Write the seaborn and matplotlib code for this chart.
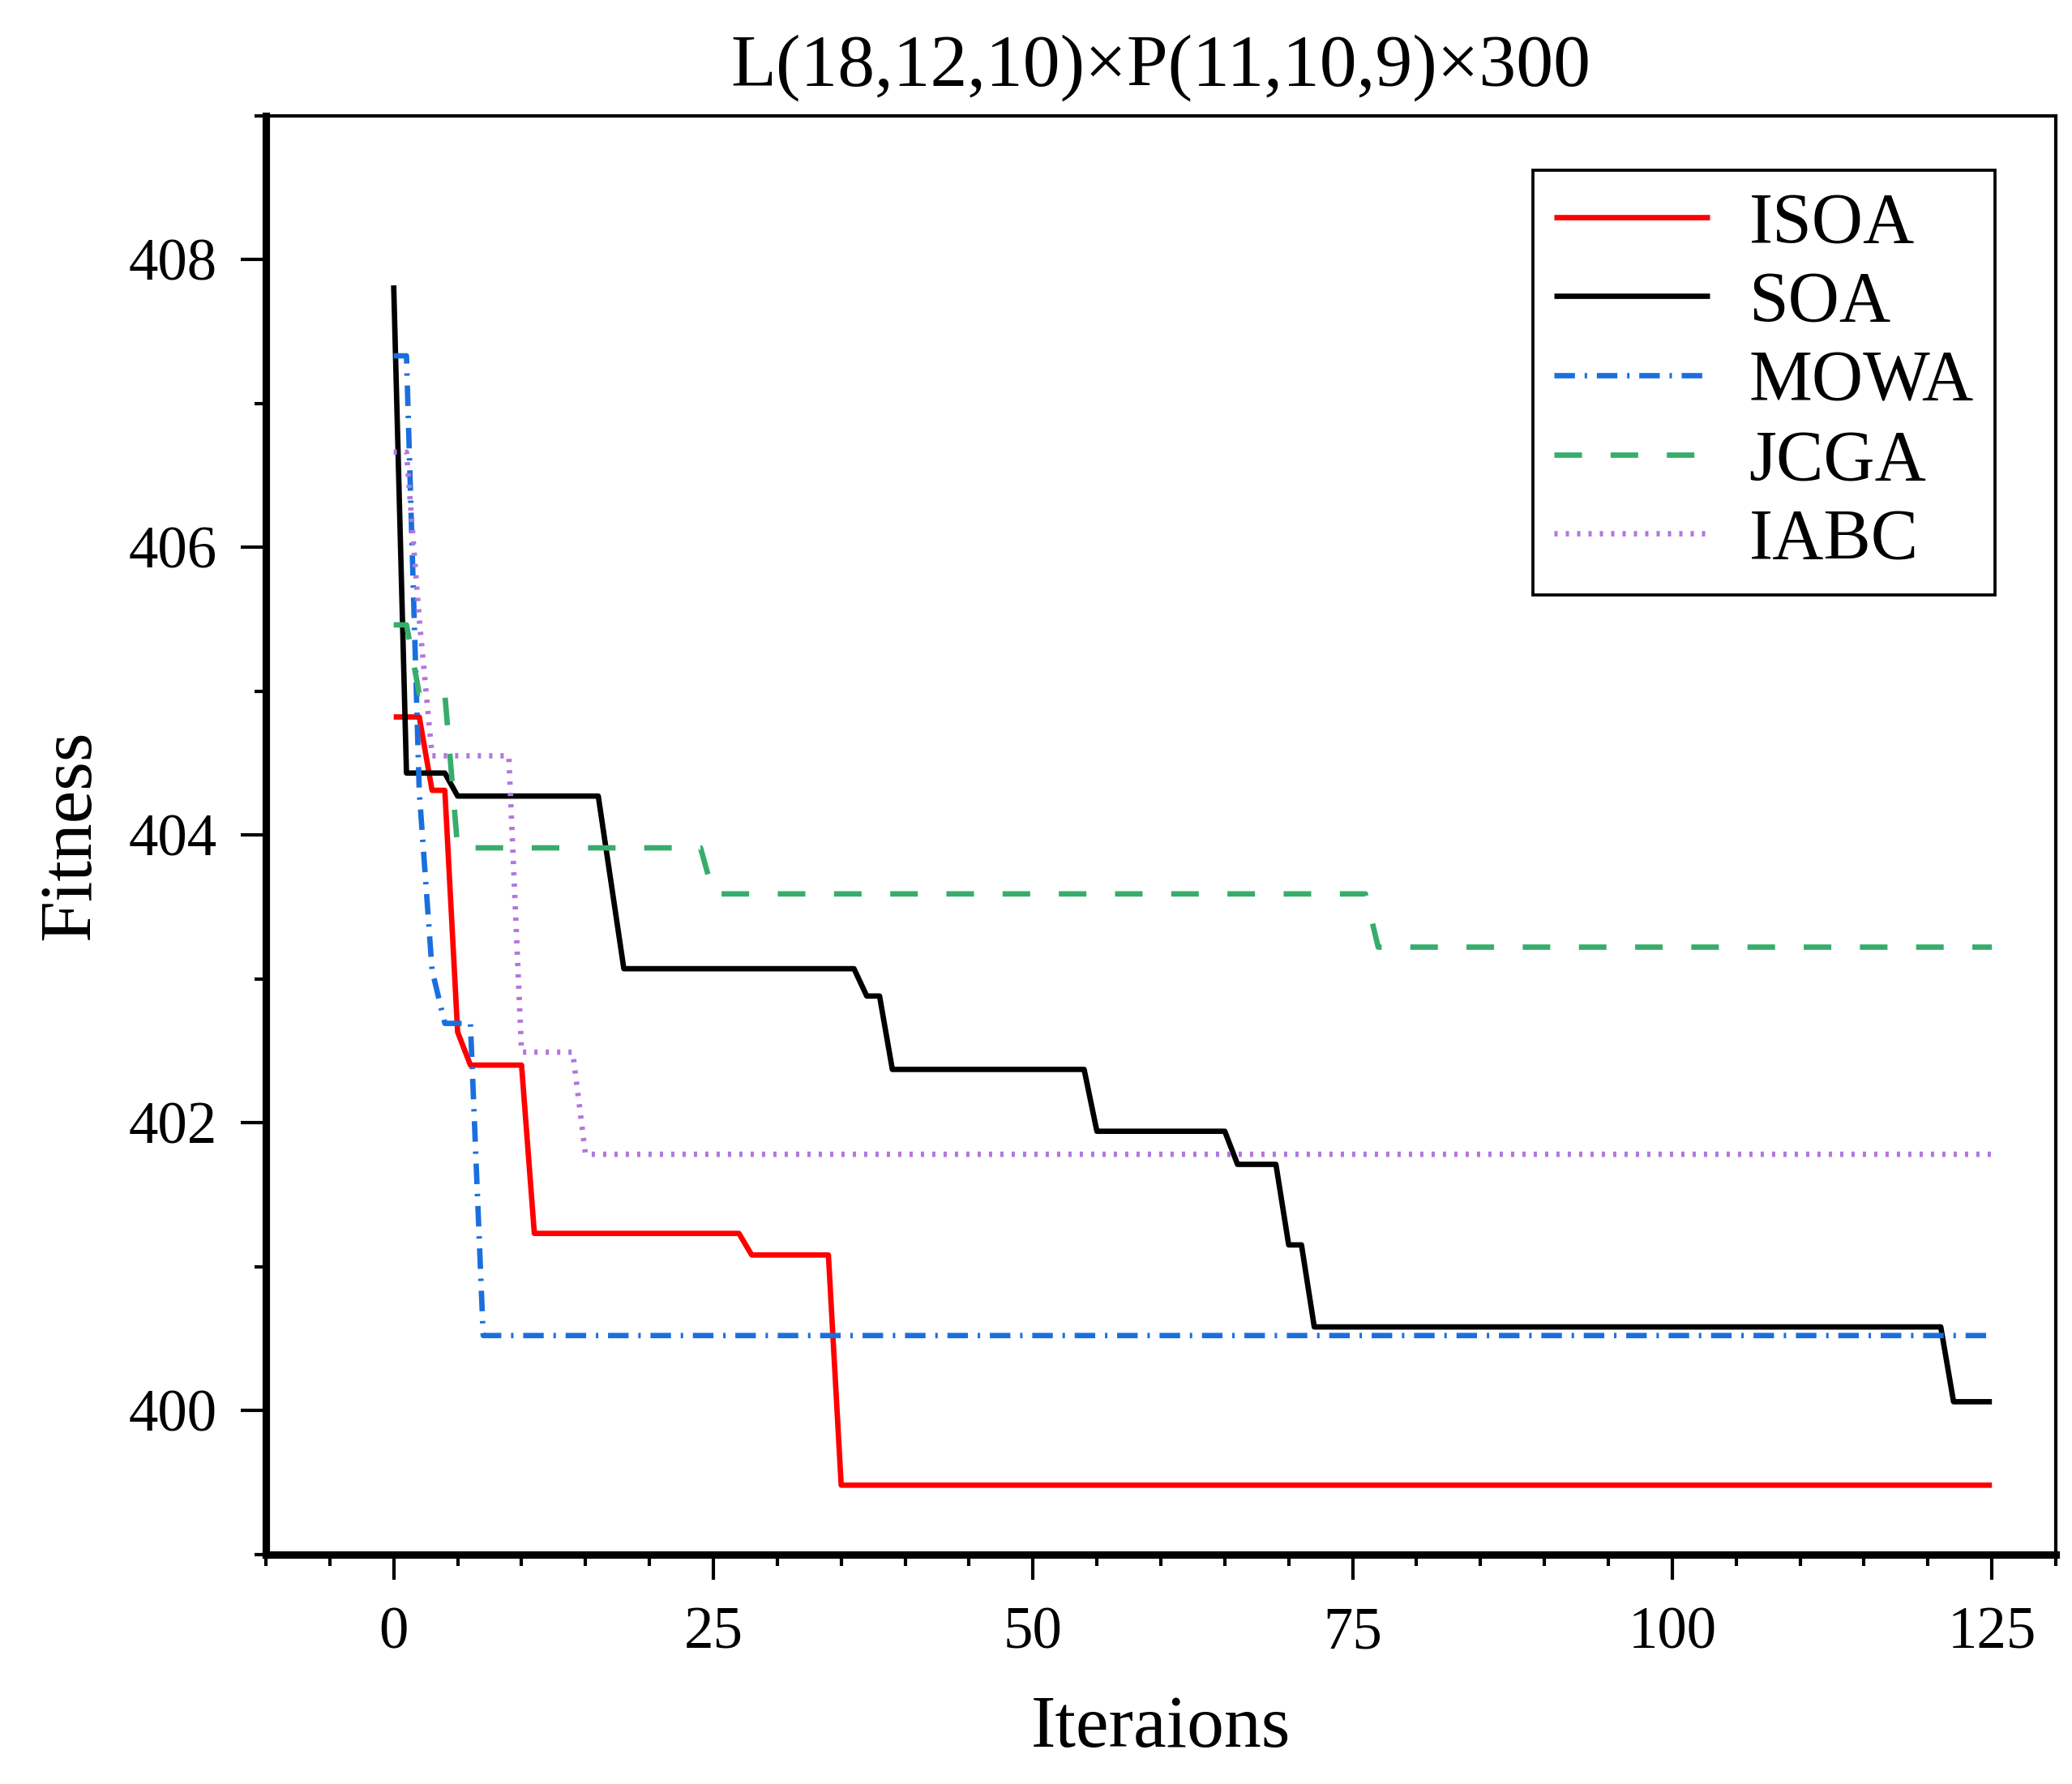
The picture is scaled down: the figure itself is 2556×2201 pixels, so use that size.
import numpy as np
import pandas as pd
import matplotlib
matplotlib.use('Agg')
import matplotlib.pyplot as plt
from matplotlib.ticker import MultipleLocator
import seaborn as sns

# breakpoints of each convergence curve (iteration, best fitness)
iter_isoa = [0, 2, 3, 4, 5, 6, 10, 11, 27, 28, 34, 35, 125]
fit_isoa = [404.82, 404.82, 404.31, 404.31, 402.63, 402.40, 402.40, 401.23, 401.23, 401.08, 401.08, 399.48, 399.48]

iter_soa = [0, 1, 4, 5, 16, 18, 36, 37, 38, 39, 54, 55, 65, 66, 69, 70, 71, 72, 121, 122, 125]
fit_soa = [407.82, 404.43, 404.43, 404.27, 404.27, 403.07, 403.07, 402.88, 402.88, 402.37, 402.37, 401.94,
           401.94, 401.71, 401.71, 401.15, 401.15, 400.58, 400.58, 400.06, 400.06]

iter_mowa = [0, 1, 2, 3, 4, 6, 7, 125]
fit_mowa = [407.33, 407.33, 404.30, 403.06, 402.69, 402.69, 400.52, 400.52]

iter_jcga = [0, 1, 2, 4, 5, 24, 25, 76, 77, 125]
fit_jcga = [405.46, 405.46, 404.98, 404.98, 403.91, 403.91, 403.59, 403.59, 403.22, 403.22]

iter_iabc = [0, 1, 2, 3, 9, 10, 14, 15, 125]
fit_iabc = [406.66, 406.66, 405.50, 404.55, 404.55, 402.49, 402.49, 401.78, 401.78]

names = ['ISOA', 'SOA', 'MOWA', 'JCGA', 'IABC']
colors = ['#ff0000', '#000000', '#1a6fdf', '#37ad6b', '#b177de']

sns.set_style('ticks')
plt.rcParams['font.family'] = ['Liberation Serif', 'DejaVu Serif']
plt.rcParams['text.color'] = 'black'
plt.rcParams['axes.labelcolor'] = 'black'
plt.rcParams['xtick.color'] = 'black'
plt.rcParams['ytick.color'] = 'black'
plt.rcParams['xtick.direction'] = 'out'
plt.rcParams['ytick.direction'] = 'out'

lw = 1.6
# dash patterns in multiples of the line width
dash_styles = [None, None, (3.8, 1.8, 0.45, 1.8), (5.1, 5.3), (0.6, 1.5)]

fig = plt.figure(figsize=(2556 / 300, 2201 / 300), dpi=300)
ax = fig.add_axes([0.1283, 0.1288, 0.9922 - 0.1283, 0.9352 - 0.1288])

series = [(iter_isoa, fit_isoa), (iter_soa, fit_soa), (iter_mowa, fit_mowa),
          (iter_jcga, fit_jcga), (iter_iabc, fit_iabc)]
for (xs, ys), name, c, d in zip(series, names, colors, dash_styles):
    df = pd.DataFrame({'Iteraions': xs, 'Fitness': ys})
    sns.lineplot(data=df, x='Iteraions', y='Fitness', ax=ax, color=c, lw=lw, label=name,
                 estimator=None, sort=False)
    line = ax.lines[-1]
    if d is not None:
        line.set_dashes(d)
    line.set_solid_capstyle('butt')

ax.set_xlim(-10, 130)
ax.set_ylim(399, 409)
ax.xaxis.set_major_locator(MultipleLocator(25))
ax.xaxis.set_minor_locator(MultipleLocator(5))
ax.yaxis.set_major_locator(MultipleLocator(2))
ax.yaxis.set_minor_locator(MultipleLocator(1))
ax.tick_params(which='major', length=7.5, width=1.0, labelsize=17.5, pad=7)
ax.tick_params(which='minor', length=3.3, width=1.0)
ax.tick_params(axis='x', which='major', pad=8)

for side in ['top', 'right']:
    ax.spines[side].set_linewidth(1.0)
for side in ['left', 'bottom']:
    ax.spines[side].set_linewidth(2.2)
for s in ax.spines.values():
    s.set_color('black')

ax.set_xlabel('Iteraions', fontsize=22, labelpad=10)
ax.set_ylabel('Fitness', fontsize=22, labelpad=7)
ax.set_title('L(18,12,10)×P(11,10,9)×300', fontsize=22, pad=9)

leg = ax.legend(loc='upper right', bbox_to_anchor=(0.966, 0.962), borderaxespad=0,
                fontsize=21, handlelength=2.2, handletextpad=0.55, labelspacing=0.19,
                borderpad=0.3, fancybox=False, framealpha=1, edgecolor='black')
leg.get_frame().set_linewidth(0.9)

fig.savefig('out.png', dpi=300)
